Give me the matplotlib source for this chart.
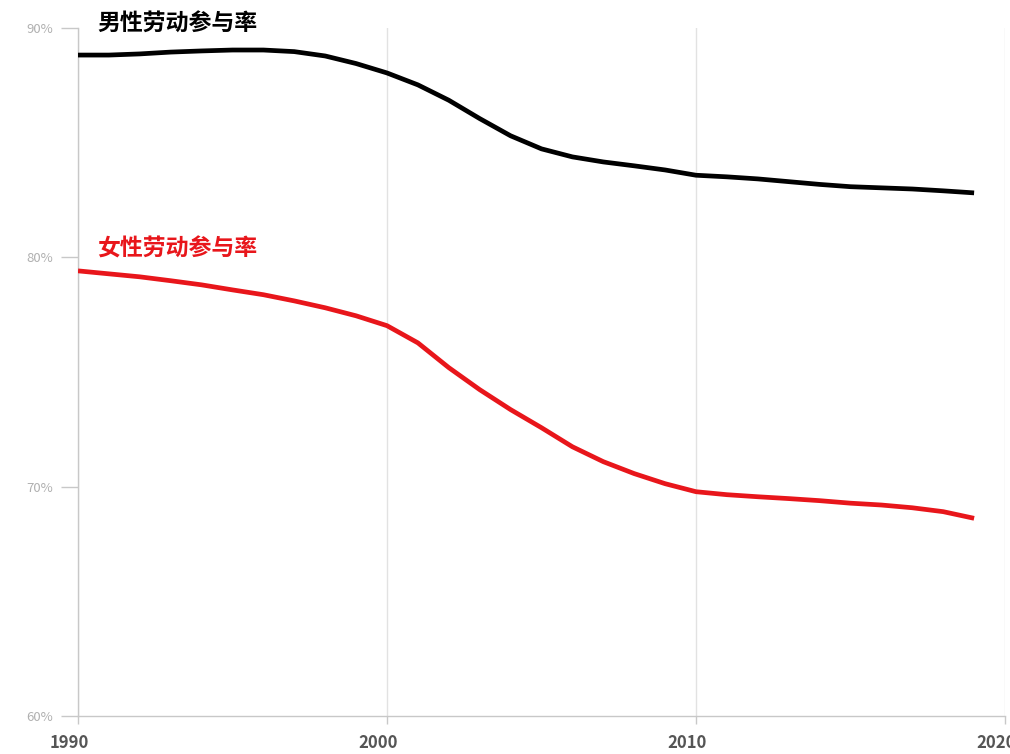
import matplotlib
matplotlib.use("Agg")
import matplotlib.pyplot as plt
from matplotlib.ticker import FuncFormatter
from matplotlib.transforms import ScaledTranslation

plt.rcParams['font.family'] = ['Noto Sans CJK SC', 'DejaVu Sans']

years = list(range(1990, 2020))
male = [88.82, 88.82, 88.87, 88.95, 89.0, 89.04, 89.04, 88.97, 88.78, 88.45,
        88.04, 87.52, 86.85, 86.05, 85.3, 84.73, 84.38, 84.16, 83.99, 83.81,
        83.58, 83.51, 83.42, 83.3, 83.18, 83.08, 83.03, 82.98, 82.9, 82.81]
female = [79.41, 79.28, 79.15, 78.98, 78.80, 78.58, 78.37, 78.10, 77.80, 77.45,
          77.02, 76.27, 75.19, 74.23, 73.36, 72.57, 71.74, 71.09, 70.57, 70.13,
          69.78, 69.65, 69.56, 69.48, 69.39, 69.28, 69.2, 69.08, 68.91, 68.62]
male_label = "男性劳动参与率"
female_label = "女性劳动参与率"
x_ticks = [1990, 2000, 2010, 2020]
y_ticks = [60, 70, 80, 90]

fig = plt.figure(figsize=(10.10, 7.54), dpi=100)
ax = fig.add_axes([78/1010, 1-716/754, (1005-78)/1010, (716-28)/754])

ax.plot(years, male, color='black', lw=3.4, solid_capstyle='butt',
        solid_joinstyle='round', zorder=3)
ax.plot(years, female, color='#e8161b', lw=3.4, solid_capstyle='butt',
        solid_joinstyle='round', zorder=3)

ax.set_xlim(1990, 2020)
ax.set_ylim(60, 90)
ax.set_xticks(x_ticks)
ax.set_yticks(y_ticks)
ax.yaxis.set_major_formatter(FuncFormatter(lambda v, p: f"{int(v)}%"))

ax.grid(axis='x', color='#e2e2e2', lw=1.0, zorder=0)
for s in ['top', 'right']:
    ax.spines[s].set_visible(False)
for s in ['left', 'bottom']:
    ax.spines[s].set_color('#c8c8c8')
    ax.spines[s].set_linewidth(1.0)

ax.tick_params(axis='y', length=12, width=1, color='#c8c8c8', labelcolor='#b0b0b0',
               labelsize=9.5, pad=6)
ax.tick_params(axis='x', length=6, width=1, color='#c8c8c8', labelcolor='#555555',
               labelsize=12, pad=7)
shift = ScaledTranslation(-9/100, 0, fig.dpi_scale_trans)
for lab in ax.get_xticklabels():
    lab.set_fontweight('bold')
    lab.set_transform(lab.get_transform() + shift)

ax.text(97/1010, 1-24/754, male_label, transform=fig.transFigure, fontsize=16.5,
        fontweight='heavy', color='black', va='center', ha='left')
ax.text(97/1010, 1-249/754, female_label, transform=fig.transFigure, fontsize=16.5,
        fontweight='heavy', color='#e8161b', va='center', ha='left')

fig.savefig('out.png', dpi=100, facecolor='white')
